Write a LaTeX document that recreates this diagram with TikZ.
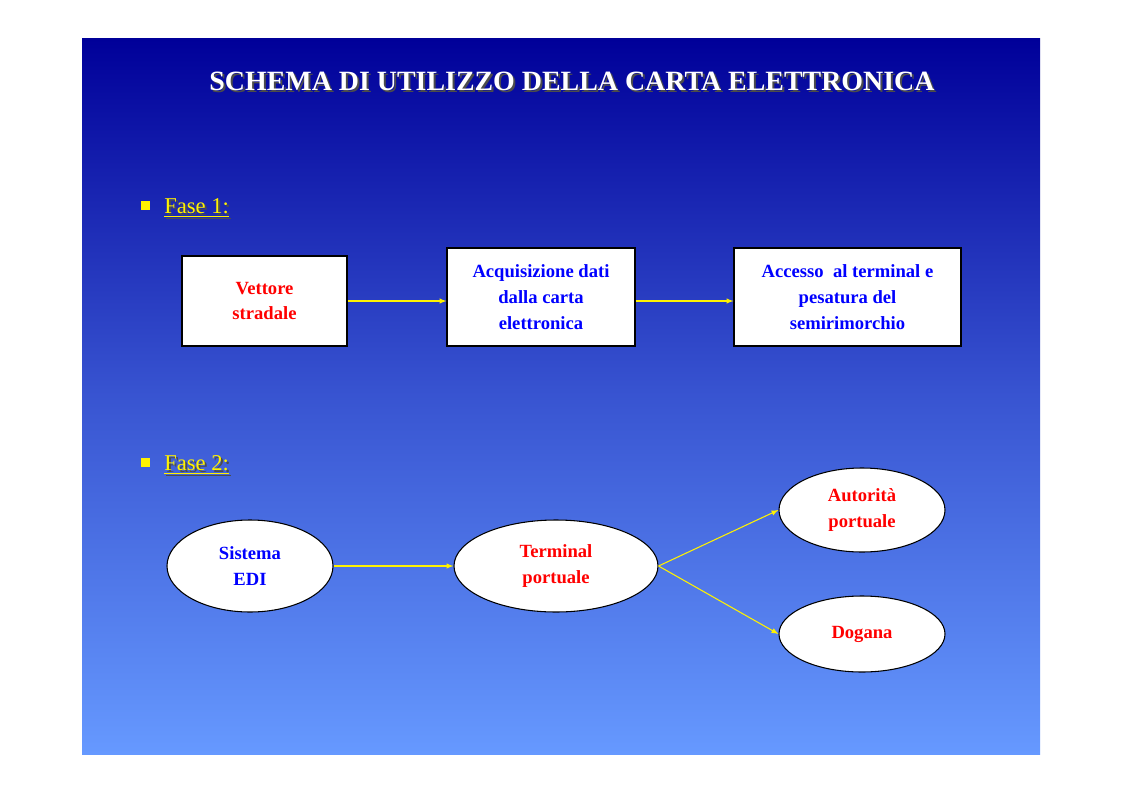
\documentclass[tikz,border=0pt]{standalone}
\usepackage{fontspec}
\setmainfont{Liberation Serif}
\usetikzlibrary{arrows,shapes.geometric,shadows}
\definecolor{slidetop}{HTML}{000099}
\definecolor{slidebot}{HTML}{6699FF}
\definecolor{boxblue}{HTML}{0000FF}
\definecolor{boxred}{HTML}{FF0000}
\tikzset{
    block/.style={
           rectangle,
           draw=black, thick,
           fill=white,
           align=center,
           font=\fontsize{14}{19.5}\selectfont\bfseries,
           },
    blob/.style={
           ellipse,
           draw=black, thick,
           fill=white,
           align=center,
           font=\fontsize{14}{19.5}\selectfont\bfseries,
           },
    link/.style={-latex, yellow, thick},
    fase/.style={
           text=yellow,
           font=\fontsize{17}{20}\selectfont,
           anchor=west, inner sep=0pt,
           },
}
\newcommand{\fasetext}[1]{\underline{#1}}
\begin{document}
\begin{tikzpicture}[x=0.02645cm, y=-0.02645cm]
	\useasboundingbox (0,0) rectangle (1123,793);
	\fill[white] (0,0) rectangle (1123,793);
	\shade[top color=slidetop, bottom color=slidebot, middle color=slidebot!55!slidetop] (82,38) rectangle (1040,754);
	% title
	\node[text=black!70, font=\fontsize{21}{25}\selectfont\bfseries] at (574,83) {SCHEMA DI UTILIZZO DELLA CARTA ELETTRONICA};
	\node[text=white, font=\fontsize{21}{25}\selectfont\bfseries] (title) at (572,81) {SCHEMA DI UTILIZZO DELLA CARTA ELETTRONICA};
	% phase 1
	\fill[yellow] (141,201) rectangle (150,210);
	\node[fase, text=black!70] at (166,210) {\fasetext{Fase 1:}};
	\node[fase] (fase1) at (164,208) {\fasetext{Fase 1:}};
	\node[block, text=boxred, minimum width=165*0.02645cm, minimum height=90*0.02645cm] (vettore) at (264.5,301) {Vettore\\stradale};
	\node[block, text=boxblue, minimum width=188*0.02645cm, minimum height=98*0.02645cm] (acq) at (541,297) {Acquisizione dati\\dalla carta\\elettronica};
	\node[block, text=boxblue, minimum width=227*0.02645cm, minimum height=98*0.02645cm] (accesso) at (847.5,297) {Accesso\ \ al terminal e\\pesatura del\\semirimorchio};
	\draw[link] (vettore.east) -- (acq.west |- vettore.east);
	\draw[link] (acq.east |- vettore.east) -- (accesso.west |- vettore.east);
	% phase 2
	\fill[yellow] (141,458) rectangle (150,467);
	\node[fase, text=black!70] at (166,467) {\fasetext{Fase 2:}};
	\node[fase] (fase2) at (164,465) {\fasetext{Fase 2:}};
	\node[blob, text=boxblue, minimum width=166*0.02645cm, minimum height=92*0.02645cm, inner sep=0pt] (edi) at (250,566) {Sistema\\EDI};
	\node[blob, text=boxred, minimum width=204*0.02645cm, minimum height=92*0.02645cm, inner sep=0pt] (terminal) at (556,566) {Terminal\\portuale};
	\node[blob, text=boxred, minimum width=166*0.02645cm, minimum height=84*0.02645cm, inner sep=0pt] (autorita) at (862,510) {Autorità\\portuale};
	\node[blob, text=boxred, minimum width=166*0.02645cm, minimum height=76*0.02645cm, inner sep=0pt] (dogana) at (862,634) {Dogana};
	\draw[link] (edi) -- (terminal);
	\draw[link] (terminal.east) -- (autorita.west);
	\draw[link] (terminal.east) -- (dogana.west);
\end{tikzpicture}
\end{document}
